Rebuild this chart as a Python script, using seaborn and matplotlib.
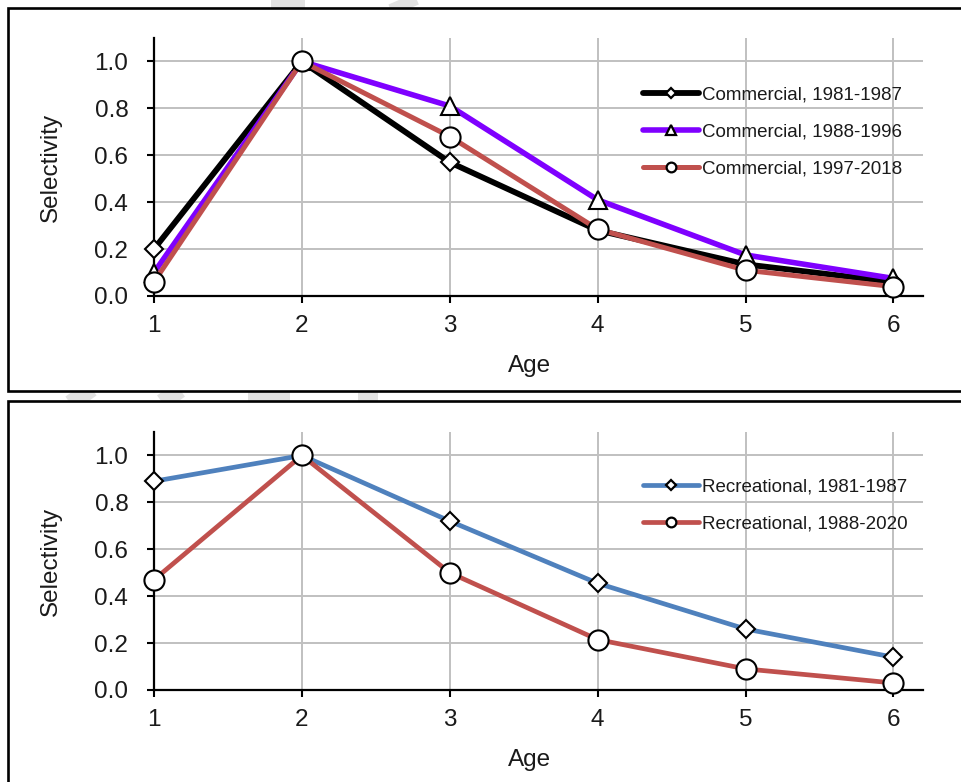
import matplotlib
matplotlib.use("Agg")
import matplotlib.pyplot as plt
from matplotlib.patches import Rectangle
from matplotlib.lines import Line2D
from matplotlib.ticker import FormatStrFormatter
import seaborn as sns

# ---- data -------------------------------------------------------------
ages = [1, 2, 3, 4, 5, 6]

com_1981_1987 = [0.20, 1.00, 0.57, 0.28, 0.135, 0.06]
com_1988_1996 = [0.10, 1.00, 0.81, 0.41, 0.175, 0.075]
com_1997_2018 = [0.06, 1.00, 0.68, 0.285, 0.11, 0.04]

rec_1981_1987 = [0.89, 1.00, 0.72, 0.455, 0.26, 0.14]
rec_1988_2020 = [0.47, 1.00, 0.50, 0.215, 0.09, 0.03]

commercial_labels = ["Commercial, 1981-1987", "Commercial, 1988-1996",
                     "Commercial, 1997-2018"]
recreational_labels = ["Recreational, 1981-1987", "Recreational, 1988-2020"]

y_ticks = [0.0, 0.2, 0.4, 0.6, 0.8, 1.0]
x_label = "Age"
y_label = "Selectivity"

# ---- styling ----------------------------------------------------------
sns.set_theme(style="white")
plt.rcParams["font.family"] = ["Liberation Sans", "DejaVu Sans"]

W, H = 962, 782
fig = plt.figure(figsize=(W / 100, H / 100), dpi=100)
fig.patch.set_facecolor("white")


def px(x, y):
    """pixel position (from top-left) -> figure fraction"""
    return x / W, 1 - y / H


# faint background watermark, only visible in the margins between frames
wm_strokes = [
    ((76, 389), (86, 403), 26),
    ((166, 389), (176, 403), 22),
    ((269, 389), (269, 403), 42),
    ((368, 389), (368, 403), 20),
    ((288, -4), (288, 10), 34),
    ((400, -4), (406, 10), 28),
    ((-10, 470), (-10, 625), 34),
]
for (a, b, lw) in wm_strokes:
    (x0, y0), (x1, y1) = px(*a), px(*b)
    fig.add_artist(Line2D([x0, x1], [y0, y1], transform=fig.transFigure,
                          color="#e2e2e2", lw=lw * 0.72,
                          solid_capstyle="butt", zorder=-5))

# panel frames
for (left, top, right, bottom) in [(8, 8, 1000, 391), (8, 401, 1000, 820)]:
    x0, y0 = px(left, bottom)
    x1, y1 = px(right, top)
    fig.add_artist(Rectangle((x0, y0), x1 - x0, y1 - y0,
                             transform=fig.transFigure, facecolor="white",
                             edgecolor="black", lw=1.9, zorder=-4))

ax_left = 154 / W
ax_w = (923 - 154) / W
ax_h = (296 - 38) / H
ax_top = fig.add_axes([ax_left, (H - 296) / H, ax_w, ax_h])
ax_bot = fig.add_axes([ax_left, (H - 690) / H, ax_w, ax_h])

top_series = [
    # values, label, color, marker, plot size, legend size, width
    (com_1981_1987, commercial_labels[0], "#000000", "D", 9.5, 5.0, 4.2),
    (com_1988_1996, commercial_labels[1], "#7F00FF", "^", 13.0, 6.5, 4.0),
    (com_1997_2018, commercial_labels[2], "#C0504D", "o", 14.5, 7.0, 3.6),
]
bot_series = [
    (rec_1981_1987, recreational_labels[0], "#4F81BD", "D", 9.5, 5.0, 3.4),
    (rec_1988_2020, recreational_labels[1], "#C0504D", "o", 14.5, 7.0, 3.4),
]

for ax, series, leg_top in [(ax_top, top_series, 0.812),
                            (ax_bot, bot_series, 0.821)]:
    ax.set_facecolor("none")
    for i, (vals, lab, col, mk, ms, _, lw) in enumerate(series):
        sns.lineplot(x=ages, y=vals, ax=ax, color=col, lw=lw, marker=mk,
                     markersize=ms, markerfacecolor="white",
                     markeredgecolor="black", markeredgewidth=1.5,
                     label=lab, clip_on=False, zorder=3 + i)

    ax.set_xlim(1, 6.2)
    ax.set_ylim(0, 1.1)
    ax.set_xticks(ages)
    ax.set_yticks(y_ticks)
    ax.yaxis.set_major_formatter(FormatStrFormatter("%.1f"))
    ax.grid(True, color="#c0c0c0", lw=1.4, zorder=0)
    ax.set_axisbelow(True)
    for side in ["top", "right"]:
        ax.spines[side].set_visible(False)
    for side in ["left", "bottom"]:
        ax.spines[side].set_color("black")
        ax.spines[side].set_linewidth(1.6)
        ax.spines[side].set_zorder(2.5)
    ax.tick_params(axis="both", which="major", direction="out", length=5,
                   width=1.5, color="black", labelsize=17.5,
                   labelcolor="#1a1a1a", left=True, bottom=True)
    ax.tick_params(axis="y", pad=13.5)
    ax.tick_params(axis="x", pad=9)

    ax.set_xlabel(x_label, fontsize=17.5, color="#1a1a1a", va="center")
    ax.set_ylabel(y_label, fontsize=17.5, color="#1a1a1a", va="center")
    ax.xaxis.set_label_coords(0.488, -0.27)
    ax.yaxis.set_label_coords(-0.134, 0.50)

    leg = ax.legend(loc="upper left", bbox_to_anchor=(0.636, leg_top),
                    frameon=False, fontsize=13.5, handlelength=3.0,
                    handletextpad=0.15, labelspacing=1.05, borderpad=0,
                    borderaxespad=0)
    for h, s in zip(leg.legend_handles, series):
        h.set_markersize(s[5])
        h.set_markeredgewidth(1.6)
    for t in leg.get_texts():
        t.set_color("#1a1a1a")

fig.savefig("out.png", dpi=100, facecolor="white")
